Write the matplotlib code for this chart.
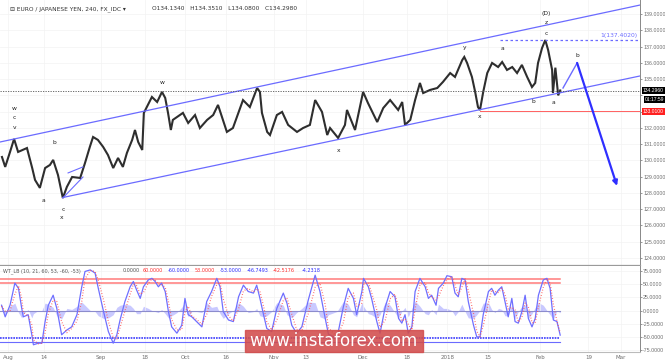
import numpy as np
import matplotlib.pyplot as plt
from matplotlib.patches import Rectangle
from matplotlib.transforms import blended_transform_factory

# Eixo x em dias úteis a partir de 1 ago 2017
tick_days = [0, 9, 23, 34, 44, 54, 66, 74, 88, 99, 109, 119, 132, 144, 152]
tick_labels = ['Aug', '14', 'Sep', '18', 'Oct', '16', 'Nov', '13', 'Dec', '18',
               '2018', '15', 'Feb', '19', 'Mar']

# Preço EURJPY (H4)
price_days = [-1.5, -0.7, 0.5, 1.5, 2.5, 4.7, 6.0, 6.7, 7.9, 9.2, 10.4, 11.2, 12.4, 13.6,
              14.6, 15.9, 17.9, 19.1, 20.3, 21.1, 22.3, 23.6, 24.8, 26.1, 27.3, 28.5, 29.5,
              30.8, 31.5, 32.3, 33.3, 33.7, 34.7, 35.7, 37.0, 38.2, 39.0, 39.7, 40.4, 40.9,
              43.4, 44.7, 46.4, 47.6, 49.4, 50.9, 52.1, 54.3, 55.8, 58.3, 60.0, 61.8, 62.5,
              63.0, 64.3, 65.0, 66.7, 68.0, 69.5, 71.7, 73.2, 74.9, 76.2, 77.9, 79.2, 79.9,
              81.9, 83.6, 84.1, 86.1, 88.1, 89.3, 91.6, 93.1, 94.8, 96.8, 97.8, 98.5, 99.8,
              101.0, 102.2, 103.0, 104.7, 106.5, 107.9, 109.7, 110.9, 112.7, 113.2, 113.9,
              115.1, 115.9, 116.6, 117.1, 117.9, 118.9, 120.1, 121.6, 122.6, 123.8, 125.1,
              126.3, 127.5, 128.8, 130.0, 130.8, 131.5, 132.5, 133.3, 134.0, 135.0, 135.2,
              135.8, 136.5, 137.0]
price = [130.21, 129.60, 130.52, 131.32, 130.52, 130.76, 129.53, 128.80, 128.31, 129.53,
         129.72, 130.03, 129.10, 127.69, 128.37, 128.98, 128.92, 129.84, 130.83, 131.44,
         131.26, 130.83, 130.33, 129.53, 130.15, 129.60, 130.46, 131.26, 131.87, 131.13,
         130.64, 132.92, 133.41, 133.90, 133.59, 134.21, 133.84, 132.92, 131.87, 132.49,
         132.92, 132.30, 132.79, 131.99, 132.49, 132.79, 133.41, 131.75, 131.99, 133.71,
         133.28, 134.45, 134.21, 132.92, 131.75, 131.56, 132.79, 132.98, 132.18, 131.75,
         131.99, 132.18, 133.71, 132.98, 131.56, 131.99, 131.38, 132.18, 133.10, 131.87,
         134.21, 133.53, 132.36, 133.22, 133.71, 133.10, 133.59, 132.18, 132.49, 133.71,
         134.76, 134.14, 134.33, 134.45, 134.82, 135.37, 135.13, 136.17, 136.36, 135.99,
         135.13, 134.21, 133.28, 133.10, 134.21, 135.37, 135.99, 135.74, 136.05, 135.56,
         135.74, 135.37, 135.87, 135.13, 134.51, 134.76, 135.99, 136.91, 137.40, 136.79,
         135.56, 134.14, 135.70, 134.00, 134.30]

# Canal e projeção
upper_days, upper_px = [-2.0, 156.8], [131.13, 139.55]
lower_days, lower_px = [13.6, 156.8], [127.72, 135.19]
wedge_a_days, wedge_a_px = [13.6, 18.6], [127.69, 128.98]
wedge_b_days, wedge_b_px = [14.9, 18.6], [129.23, 129.60]
proj_days, proj_px = [137.7, 141.2, 151.1], [134.45, 135.99, 128.43]
last_price = 134.296
support = 133.01
target = 137.402

wave_labels = [
    ('w', 1.5, 133.22), ('c', 1.5, 132.61), ('v', 1.5, 132.05),
    ('b', 11.4, 131.07), ('a', 8.7, 127.51), ('c', 13.6, 127.01), ('x', 13.4, 126.46),
    ('w', 38.2, 134.76), ('x', 81.9, 130.58), ('y', 113.2, 136.91), ('a', 122.6, 136.85),
    ('(D)', 133.5, 139.0), ('z', 133.5, 138.45), ('c', 133.5, 137.83),
    ('x', 116.9, 132.67), ('b', 130.3, 133.65), ('a', 135.2, 133.53), ('b', 141.2, 136.42),
]

# Indicador WT_LB
wt_days = [-1.6, -0.7, 0.5, 1.7, 2.6, 3.4, 3.8, 5.0, 5.9, 6.3, 7.5, 8.4, 9.2, 10.0, 11.2,
           12.1, 13.3, 14.6, 15.8, 17.1, 18.3, 19.1, 20.4, 21.6, 22.4, 23.7, 24.9, 26.1,
           27.0, 27.8, 29.0, 30.3, 31.1, 31.9, 32.8, 33.6, 34.8, 35.7, 36.5, 37.3, 38.1,
           39.0, 39.8, 40.6, 41.9, 43.1, 43.9, 44.7, 45.6, 46.8, 48.1, 49.3, 50.5, 51.8,
           52.6, 53.4, 54.7, 55.9, 57.2, 58.4, 59.6, 60.9, 61.7, 62.5, 63.4, 64.2, 65.4,
           66.7, 68.3, 69.2, 70.4, 71.6, 72.9, 74.5, 76.2, 77.4, 78.7, 79.5, 81.6, 83.2,
           84.4, 85.7, 86.5, 87.8, 88.2, 89.4, 90.2, 91.5, 92.3, 93.6, 94.8, 96.0, 96.9,
           97.7, 98.5, 99.3, 100.2, 101.0, 102.2, 103.5, 104.3, 105.1, 106.2, 106.8, 108.0,
           108.9, 110.1, 110.9, 111.7, 112.6, 113.4, 114.2, 115.5, 116.3, 117.1, 117.9,
           119.2, 120.0, 120.8, 121.7, 122.5, 123.3, 124.1, 125.0, 125.8, 126.6, 127.5,
           128.3, 129.1, 130.0, 130.8, 131.6, 132.8, 133.7, 134.5, 135.3, 136.2, 137.0]
wt1 = [10, -12, 10, 52, 42, 4, -12, -8, -46, -65, -62, -62, -21, 10, 29, 4, -46, -37, -31,
       -8, 45, 74, 77, 71, 42, -2, -40, -62, -46, -18, 17, 45, 55, 39, 23, 45, 58, 61, 55,
       45, 52, 36, -2, -31, -43, -28, 23, -8, -12, -21, -31, 17, 36, 61, 45, -2, -18, -21,
       26, 48, 36, 33, 48, 23, -8, -34, -40, 4, 33, 14, -28, -43, -31, 20, 67, 36, -15,
       -45, -53, 7, 42, 23, -8, 36, 61, 45, 23, -21, -43, 7, 36, 26, -15, -24, -8, -43,
       -31, 36, 61, 45, 23, 29, 10, 42, 52, 66, 64, 33, 26, 61, 58, 17, -28, -50, -50, -8,
       36, 42, 29, 39, 45, 17, -12, 23, -21, -24, -2, 29, -15, -31, -15, 29, 58, 61, 42,
       -18, -21, -46.7]
wt2 = [8, -1, -1, 31, 47, 23, -4, -10, -27, -56, -63, -62, -42, -6, 20, 17, -21, -42, -34,
       -20, 18, 60, 76, 74, 57, 20, -21, -51, -54, -32, -1, 31, 50, 47, 31, 34, 52, 60, 58,
       50, 49, 44, 17, -17, -37, -36, -3, 8, -10, -17, -26, -7, 27, 49, 53, 22, -10, -20,
       3, 37, 42, 35, 41, 36, 8, -21, -37, -18, 19, 24, -7, -36, -37, -6, 44, 52, 11, -33,
       -50, -23, 25, 33, 8, 14, 49, 53, 34, 1, -32, -18, 22, 31, 6, -20, -16, -26, -37, 3,
       49, 53, 34, 26, 20, 26, 47, 59, 65, 48, 30, 44, 60, 38, -6, -39, -50, -29, 14, 39,
       36, 34, 42, 31, 3, 6, 1, -22, -13, 14, 7, -23, -23, 7, 44, 60, 52, 12, -20, -42.5]
wt_hist = [2, -8, 8, 14, -4, -14, -6, 2, -14, -6, 0, 0, 14, 12, 6, -10, -16, 4, 2, 8, 16, 10,
           0, -2, -10, -15, -14, -8, 6, 10, 12, 10, 4, -6, -6, 8, 4, 0, -2, -4, 2, -6, -14,
           -10, -4, 6, 16, -12, -2, -2, -4, 15, 6, 8, -6, -15, -6, 0, 15, 8, -4, -2, 4, -10,
           -12, -10, -2, 15, 10, -8, -14, -4, 4, 16, 15, -12, -16, -8, -2, 17, 12, -8, -12,
           15, 8, -6, -8, -15, -8, 16, 10, -4, -14, -2, 6, -12, 4, 18, 8, -6, -8, 2, -8, 12,
           4, 4, 0, -10, -2, 12, -2, -14, -15, -8, 0, 14, 15, 2, -4, 4, 2, -10, -10, 12, -15,
           -2, 8, 10, -15, -6, 6, 15, 10, 0, -8, -17, 0, -4.2]
wt_levels_red = [60, 53]
wt_levels_blue = [-53, -60]
wt_ticks = [75, 50, 25, 0, -25, -50, -75]
price_ticks = list(range(124, 140))
hidden_ticks = [133, 134]   # tapados pelas etiquetas de preço

BLUE = '#6b6bff'
GRAY = '#6e6e6e'
FS = 3.6
AXFONT = ['Liberation Sans', 'DejaVu Sans']

fig = plt.figure(figsize=(6.65, 3.61), dpi=100)
ax = fig.add_axes([0, 96 / 361, 640 / 665, 265 / 361])
ax2 = fig.add_axes([0, 9 / 361, 640 / 665, 86 / 361])

xlim = (-1.99, 156.8)

# --- painel de preço ---
ax.plot(price_days, price, color='#2e2e2e', lw=1.5, solid_joinstyle='miter')
ax.plot(upper_days, upper_px, color=BLUE, lw=0.9)
ax.plot(lower_days, lower_px, color=BLUE, lw=0.9)
ax.plot(wedge_a_days, wedge_a_px, color=BLUE, lw=0.8)
ax.plot(wedge_b_days, wedge_b_px, color=BLUE, lw=0.8)
ax.axhline(last_price, color='#555555', lw=0.6, ls=(0, (1.5, 1.5)))
ax.plot([117.1, xlim[1]], [support, support], color='#ff6060', lw=0.7)
ax.plot([122.1, xlim[1]], [target, target], color=BLUE, lw=0.9, ls=(0, (2, 2)))
ax.text(156.2, target + 0.12, '1(137.4020)', color=BLUE, fontsize=4.3, ha='right', va='bottom')
ax.plot(proj_days[:2], proj_px[:2], color=BLUE, lw=1.0)
ax.annotate('', xy=(proj_days[2], proj_px[2]), xytext=(proj_days[1], proj_px[1]),
            arrowprops=dict(arrowstyle='-|>', color='#2f2fff', lw=1.6,
                            mutation_scale=7, shrinkA=0, shrinkB=0))
for txt, d, p in wave_labels:
    ax.text(d, p, txt, fontsize=4.3, color='#222222', ha='center', va='center')

ax.set_xlim(*xlim)
ax.set_ylim(123.57, 139.86)
ax.set_xticks(tick_days)
ax.tick_params(axis='x', length=0, labelbottom=False)
ax.yaxis.tick_right()
ax.set_yticks(price_ticks)
ax.set_yticklabels(['' if v in hidden_ticks else f'{v:.4f}' for v in price_ticks],
                   family=AXFONT)
ax.tick_params(axis='y', labelsize=3.8, colors=GRAY, length=1.5, width=0.5, pad=0.8)
ax.grid(True, color='#f3f3f3', lw=0.5)
for s in ['left', 'top']:
    ax.spines[s].set_visible(False)
ax.spines['right'].set_color('#888888')
ax.spines['bottom'].set_color('#9a9a9a')
ax.spines['right'].set_linewidth(0.7)
ax.spines['bottom'].set_linewidth(0.9)

tr = blended_transform_factory(ax.transAxes, ax.transData)
box_k = dict(boxstyle='square,pad=0.2', fc='black', ec='none')
ax.text(1.004, last_price, '134.2960', transform=tr, fontsize=FS, color='white', family=AXFONT,
        va='center', ha='left', bbox=box_k)
ax.text(1.008, last_price - 0.56, '01:17:59', transform=tr, fontsize=FS, color='white',
        family=AXFONT, va='center', ha='left', bbox=box_k)
ax.text(1.004, support, '133.0100', transform=tr, fontsize=FS, color='white', family=AXFONT,
        va='center', ha='left', bbox=dict(boxstyle='square,pad=0.2', fc='#ff2020', ec='none'))

ax.text(0.015, 0.967, '\u229f EURO / JAPANESE YEN, 240, FX_IDC \u25be', transform=ax.transAxes,
        fontsize=4.2, color='#333333', va='center')
ax.text(0.237, 0.967, 'O134.1340   H134.3510   L134.0800   C134.2980', transform=ax.transAxes,
        fontsize=4.2, color='#333333', va='center')

# --- painel do indicador ---
ax2.fill_between(wt_days, 0, wt_hist, color='#9494ff', alpha=0.5, lw=0)
for lv in wt_levels_red:
    ax2.plot([xlim[0], 137.0], [lv, lv], color='#ff7b7b', lw=1.1)
ax2.plot([xlim[0], 137.0], [wt_levels_blue[0]] * 2, color='#3d3dff', lw=1.2, ls=(0, (1, 0.6)))
ax2.plot([xlim[0], 137.0], [wt_levels_blue[1]] * 2, color='#6b6bff', lw=0.8)
ax2.plot([xlim[0], 137.0], [0, 0], color='#8c8ccc', lw=0.8)
ax2.plot(wt_days, wt1, color='#6f6fff', lw=0.9)
ax2.plot(wt_days, wt2, color='#ff5050', lw=0.9, ls=(0, (0.6, 1.6)))

ax2.set_xlim(*xlim)
ax2.set_ylim(-78.7, 84.4)
ax2.set_xticks(tick_days)
ax2.set_xticklabels(tick_labels)
ax2.tick_params(axis='x', labelsize=4.0, colors=GRAY, length=0, pad=2)
ax2.yaxis.tick_right()
ax2.set_yticks(wt_ticks)
ax2.set_yticklabels([f'{v:.4f}' for v in wt_ticks], family=AXFONT)
ax2.tick_params(axis='y', labelsize=3.8, colors=GRAY, length=1.5, width=0.5, pad=0.8)
ax2.grid(True, color='#f3f3f3', lw=0.5)
ax2.spines['left'].set_visible(False)
ax2.spines['top'].set_visible(False)
ax2.spines['right'].set_color('#888888')
ax2.spines['bottom'].set_color('#bbbbbb')
ax2.spines['right'].set_linewidth(0.7)

hdr = [('WT_LB (10, 21, 60, 53, -60, -53)', 3, '#555555'), ('0.0000', 123, '#555555'),
       ('60.0000', 143, '#ff3030'), ('-60.0000', 168, '#3030ff'), ('53.0000', 195, '#ff3030'),
       ('-53.0000', 220, '#3030ff'), ('-46.7493', 247, '#3030ff'), ('-42.5176', 273, '#ff3030'),
       ('-4.2318', 302, '#3030ff')]
for txt, px, col in hdr:
    fig.text(px / 665, 1 - 271 / 361, txt, fontsize=3.5, color=col, va='center')

# marca d'água
fig.patches.append(Rectangle((245 / 665, 9 / 361), 178 / 665, 22 / 361, transform=fig.transFigure,
                             color='#d24c4c', alpha=0.88, zorder=5))
fig.text(333 / 665, 20 / 361, 'www.instaforex.com', fontsize=12, color='white',
         ha='center', va='center', zorder=6)

fig.savefig('out.png', dpi=100)
